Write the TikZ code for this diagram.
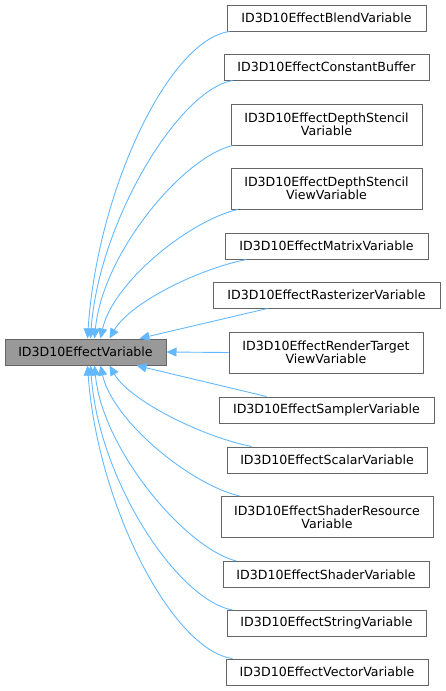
\documentclass[tikz,border=0pt]{standalone}
\usepackage{fontspec}
\setmainfont{DejaVu Sans}
\usetikzlibrary{arrows.meta,calc}
\definecolor{edgeblue}{HTML}{63B8FF}
\definecolor{boxborder}{HTML}{666666}
\definecolor{mainfill}{HTML}{999999}
\tikzset{
  cls/.style={draw=boxborder, line width=1pt, fill=white, inner sep=0pt, align=center,
    font=\fontsize{12.6}{13.4}\selectfont, text=black},
  one/.style={cls, minimum height=26pt},
  two/.style={cls, minimum height=41pt},
  mainbox/.style={cls, fill=mainfill, minimum height=26pt},
  inh/.style={draw=edgeblue, line width=0.9pt, -{Triangle[length=10pt,width=9pt,fill=edgeblue]}}
}
\begin{document}
\begin{tikzpicture}[x=1pt,y=-1pt]
\useasboundingbox (0,0) rectangle (445,691);
\node[mainbox, minimum width=161pt] (main) at (85.5,352) {ID3D10EffectVariable};
\node[one, minimum width=199pt] (b1) at (326.5,18) {ID3D10EffectBlendVariable};
\node[one, minimum width=205pt] (b2) at (326.5,67) {ID3D10EffectConstantBuffer};
\node[two, minimum width=191pt] (b3) at (326.5,124.5) {ID3D10EffectDepthStencil\\Variable};
\node[two, minimum width=191pt] (b4) at (326.5,188.5) {ID3D10EffectDepthStencil\\ViewVariable};
\node[one, minimum width=203pt] (b5) at (326.5,246) {ID3D10EffectMatrixVariable};
\node[one, minimum width=227pt] (b6) at (326.5,295) {ID3D10EffectRasterizerVariable};
\node[two, minimum width=194pt] (b7) at (326,352.5) {ID3D10EffectRenderTarget\\ViewVariable};
\node[one, minimum width=215pt] (b8) at (326.5,410) {ID3D10EffectSamplerVariable};
\node[one, minimum width=200pt] (b9) at (327,460) {ID3D10EffectScalarVariable};
\node[two, minimum width=212pt] (b10) at (327,517) {ID3D10EffectShaderResource\\Variable};
\node[one, minimum width=206pt] (b11) at (326,574.5) {ID3D10EffectShaderVariable};
\node[one, minimum width=199pt] (b12) at (326.5,623.5) {ID3D10EffectStringVariable};
\node[one, minimum width=202pt] (b13) at (327,672) {ID3D10EffectVectorVariable};

% upper edges
\draw[inh] ($(b1.south west)+(3,0)$) .. controls +(-60,8) and +(10,-150) .. ($(main.north west)+(83,0)$);
\draw[inh] ($(b2.south west)+(9,0)$) .. controls +(-55,10) and +(8,-115) .. ($(main.north west)+(86,0)$);
\draw[inh] ($(b3.south west)+(2,0)$) .. controls +(-50,12) and +(8,-85) .. ($(main.north west)+(90,0)$);
\draw[inh] ($(b4.south west)+(7,0)$) .. controls +(-50,12) and +(12,-55) .. ($(main.north west)+(96,0)$);
\draw[inh] ($(b5.south west)+(22,0)$) .. controls +(-50,10) and +(20,-35) .. ($(main.north west)+(105,0)$);
\draw[inh] ($(b6.south west)+(55,0)$) -- ($(main.north west)+(135,0)$);
\draw[inh] (b7.west) -- (main.east);
% lower edges
\draw[inh] ($(b8.north west)+(48,0)$) -- ($(main.south west)+(132,0)$);
\draw[inh] ($(b9.north west)+(25,0)$) .. controls +(-50,-10) and +(20,35) .. ($(main.south west)+(105,0)$);
\draw[inh] ($(b10.north west)+(19,0)$) .. controls +(-50,-12) and +(12,55) .. ($(main.south west)+(96,0)$);
\draw[inh] ($(b11.north west)+(14,0)$) .. controls +(-50,-12) and +(8,85) .. ($(main.south west)+(90,0)$);
\draw[inh] ($(b12.north west)+(6,0)$) .. controls +(-55,-10) and +(8,115) .. ($(main.south west)+(86,0)$);
\draw[inh] ($(b13.north west)+(7,0)$) .. controls +(-60,-8) and +(10,140) .. ($(main.south west)+(83,0)$);
\end{tikzpicture}
\end{document}
